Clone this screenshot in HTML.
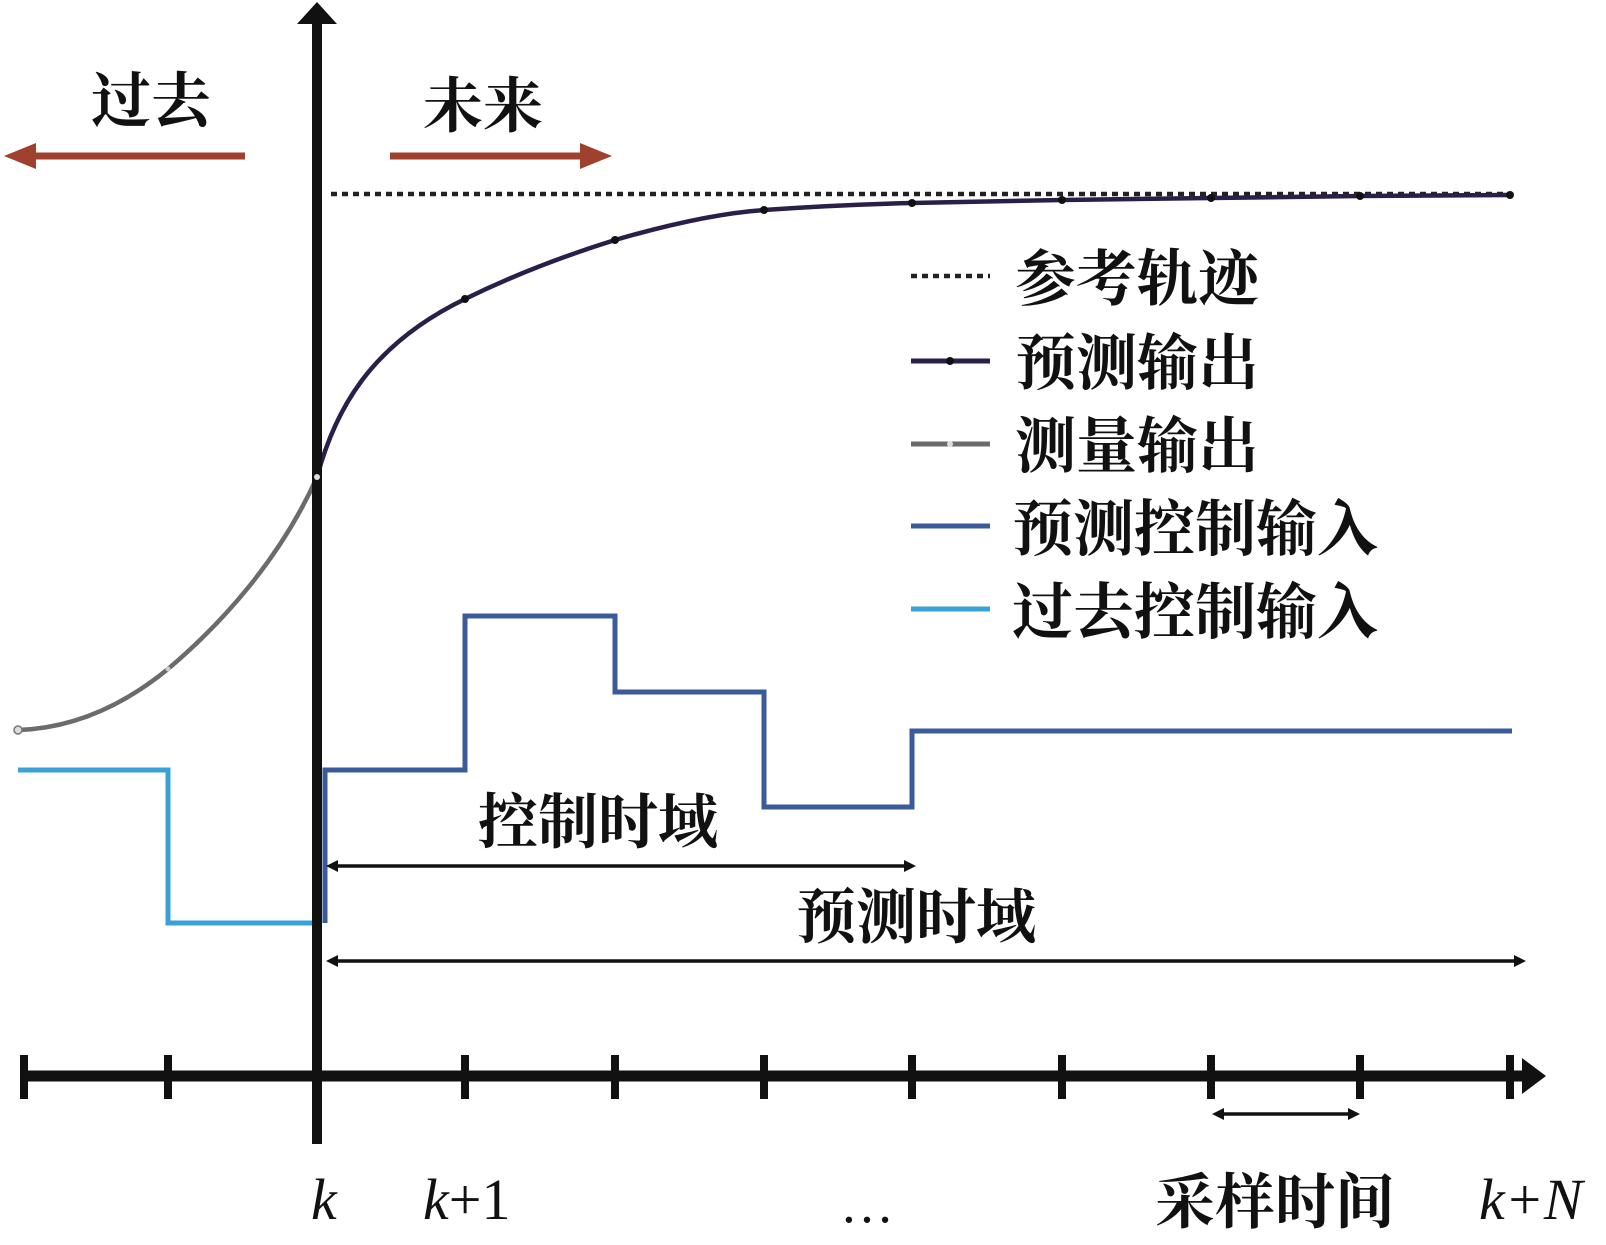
<!DOCTYPE html>
<html><head><meta charset="utf-8"><style>
html,body{margin:0;padding:0;background:#fff;}
svg{display:block;}
text{font-family:"Liberation Serif","Noto Serif CJK SC",serif;font-weight:700;fill:#111;}
.it{font-style:italic;font-weight:400;}
.rm{font-weight:400;}
</style></head><body>
<svg width="1606" height="1245" viewBox="0 0 1606 1245" xmlns="http://www.w3.org/2000/svg">
<line x1="30" y1="156" x2="245" y2="156" stroke="#a0402e" stroke-width="7"/>
<polygon points="4,156 36,143 36,169" fill="#a0402e"/>
<line x1="390" y1="156" x2="585" y2="156" stroke="#a0402e" stroke-width="7"/>
<polygon points="612,156 580,143 580,169" fill="#a0402e"/>
<text x="91" y="122" font-size="60">过去</text>
<text x="423" y="127" font-size="60">未来</text>
<line x1="331" y1="194" x2="1512" y2="194" stroke="#222" stroke-width="4.5" stroke-dasharray="6,5"/>
<path d="M18,730 C80,728 130,700 168,669 C220,625 280,560 317,477" fill="none" stroke="#6b6b6b" stroke-width="4.5"/>
<path d="M317,477 C335,410 370,345 465,299 C520,272 570,254 615,240 C670,224 720,213 764,210 C820,206 870,204 912,203 L1062,200 L1211,198 L1360,196 L1510,195" fill="none" stroke="#2a1f48" stroke-width="4.5"/>
<g fill="#111"><circle cx="465" cy="299" r="4"/><circle cx="615" cy="240" r="4"/><circle cx="764" cy="210" r="4"/><circle cx="912" cy="203" r="4"/><circle cx="1062" cy="200" r="4"/><circle cx="1211" cy="198" r="4"/><circle cx="1360" cy="196" r="4"/><circle cx="1510" cy="195" r="4"/></g>
<circle cx="18" cy="730" r="4" fill="#ddd" stroke="#777" stroke-width="1.5"/>
<circle cx="168" cy="669" r="2.5" fill="#ccc"/>
<polyline points="18,770 168,770 168,923 317,923" fill="none" stroke="#3aa0d8" stroke-width="5"/>
<polyline points="325,923 325,770 465,770 465,616 615,616 615,692 764,692 764,807 912,807 912,731 1512,731" fill="none" stroke="#3a5a9a" stroke-width="5"/>
<line x1="317" y1="20" x2="317" y2="1144" stroke="#111" stroke-width="10"/>
<polygon points="317,2 337,24 297,24" fill="#111"/>
<circle cx="317" cy="477" r="3" fill="#ddd"/>
<line x1="330" y1="866" x2="910" y2="866" stroke="#111" stroke-width="3.5"/>
<polygon points="326,866 338,860 338,872" fill="#111"/><polygon points="916,866 904,860 904,872" fill="#111"/>
<text x="478" y="843" font-size="60">控制时域</text>
<line x1="330" y1="961" x2="1520" y2="961" stroke="#111" stroke-width="3.5"/>
<polygon points="326,961 338,955 338,967" fill="#111"/><polygon points="1526,961 1514,955 1514,967" fill="#111"/>
<text x="796" y="938" font-size="60">预测时域</text>
<line x1="24" y1="1076" x2="1530" y2="1076" stroke="#111" stroke-width="11"/>
<polygon points="1546,1076 1522,1058 1522,1094" fill="#111"/>
<g stroke="#111" stroke-width="8">
<line x1="24" y1="1055" x2="24" y2="1099"/><line x1="168" y1="1055" x2="168" y2="1099"/>
<line x1="465" y1="1055" x2="465" y2="1099"/><line x1="615" y1="1055" x2="615" y2="1099"/>
<line x1="764" y1="1055" x2="764" y2="1099"/><line x1="912" y1="1055" x2="912" y2="1099"/>
<line x1="1062" y1="1055" x2="1062" y2="1099"/><line x1="1211" y1="1055" x2="1211" y2="1099"/>
<line x1="1360" y1="1055" x2="1360" y2="1099"/><line x1="1510" y1="1055" x2="1510" y2="1099"/>
</g>
<line x1="1218" y1="1114" x2="1354" y2="1114" stroke="#111" stroke-width="3.5"/>
<polygon points="1212,1114 1224,1108 1224,1120" fill="#111"/><polygon points="1360,1114 1348,1108 1348,1120" fill="#111"/>
<text x="311" y="1219" font-size="58" class="it">k</text>
<text x="423" y="1219" font-size="58" class="rm"><tspan class="it">k</tspan>+1</text>
<text x="840" y="1222" font-size="54" class="rm">…</text>
<text x="1155" y="1223" font-size="60">采样时间</text>
<text x="1479" y="1219" font-size="58" class="it">k+N</text>
<line x1="911" y1="276" x2="990" y2="276" stroke="#222" stroke-width="4.5" stroke-dasharray="6,5"/>
<line x1="911" y1="361" x2="990" y2="361" stroke="#2a1f48" stroke-width="5"/><circle cx="950" cy="361" r="4" fill="#111"/>
<line x1="911" y1="444" x2="990" y2="444" stroke="#6b6b6b" stroke-width="5"/><circle cx="950" cy="444" r="3" fill="#ddd"/>
<line x1="911" y1="526" x2="990" y2="526" stroke="#3a5a9a" stroke-width="5"/>
<line x1="911" y1="609" x2="990" y2="609" stroke="#3aa0d8" stroke-width="5"/>
<text x="1015" y="300" font-size="61">参考轨迹</text>
<text x="1015" y="384" font-size="61">预测输出</text>
<text x="1015" y="467" font-size="61">测量输出</text>
<text x="1012" y="550" font-size="61">预测控制输入</text>
<text x="1012" y="633" font-size="61">过去控制输入</text>
</svg>
</body></html>
